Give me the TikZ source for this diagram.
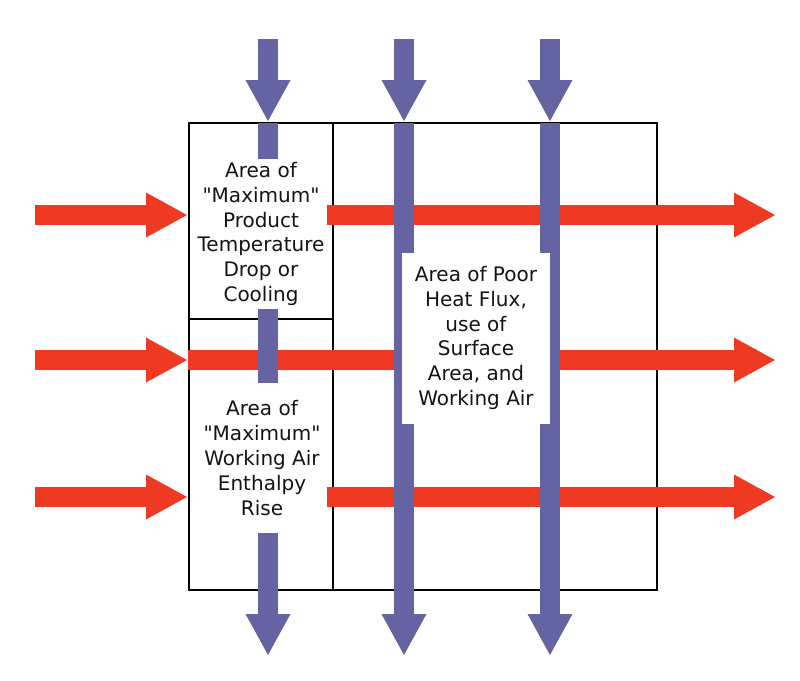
\documentclass[tikz,border=0pt]{standalone}
\usepackage{fontspec}
\setmainfont{DejaVu Sans}
\usetikzlibrary{arrows.meta}

\definecolor{heatred}{RGB}{238,58,35}
\definecolor{airblue}{RGB}{100,100,162}
\definecolor{inkgray}{RGB}{20,20,20}

\tikzset{
  flow/.style={line width=20pt, -{Triangle[length=41pt,width=45pt,line width=0pt]}},
  product/.style={flow, draw=heatred},
  air/.style={flow, draw=airblue},
  area/.style={fill=white, inner sep=0pt, align=center, text=inkgray,
    font=\fontsize{20}{24.8}\selectfont}
}

\begin{document}
\begin{tikzpicture}[x=1pt,y=-1pt]
  \useasboundingbox (0,0) rectangle (800,680);
  % cooler outline and its zones
  \draw[line width=2.2pt] (189,123) rectangle (657,590);
  \draw[line width=2.2pt] (333,123) -- (333,590);
  \draw[line width=2.2pt] (189,319) -- (333,319);
  % product streams, left to right
  \foreach \n/\y in {1/215,2/360,3/497} {
    \coordinate (src\n) at (35,\y);
    \coordinate (face\n) at (187,\y);
    \coordinate (exit\n) at (775,\y);
  }
  \coordinate (pass1) at (327,215);
  \coordinate (pass2) at (188,360);
  \coordinate (pass3) at (327,497);
  \foreach \n in {1,2,3} {
    \draw[product] (src\n) -- (face\n);
    \draw[product] (pass\n) -- (exit\n);
  }
  % working air, top to bottom
  \foreach \n/\x in {1/268,2/404,3/550} {
    \coordinate (feed\n) at (\x,39);
    \coordinate (lid\n) at (\x,121);
    \coordinate (rim\n) at (\x,123);
    \coordinate (drain\n) at (\x,655);
    \draw[air] (feed\n) -- (lid\n);
    \draw[air] (rim\n) -- (drain\n);
  }
  % zone labels
  \node[area, minimum height=150pt] (cooling) at (261,234)
    {Area of\\\textquotedbl Maximum\textquotedbl\\Product\\Temperature\\Drop or\\Cooling};
  \node[area, minimum height=150pt] (enthalpy) at (262,458)
    {Area of\\\textquotedbl Maximum\textquotedbl\\Working Air\\Enthalpy\\Rise};
  \node[area, minimum width=148pt, minimum height=171pt] (poorflux) at (476,338)
    {Area of Poor\\Heat Flux,\\use of\\Surface\\Area, and\\Working Air};
\end{tikzpicture}
\end{document}
